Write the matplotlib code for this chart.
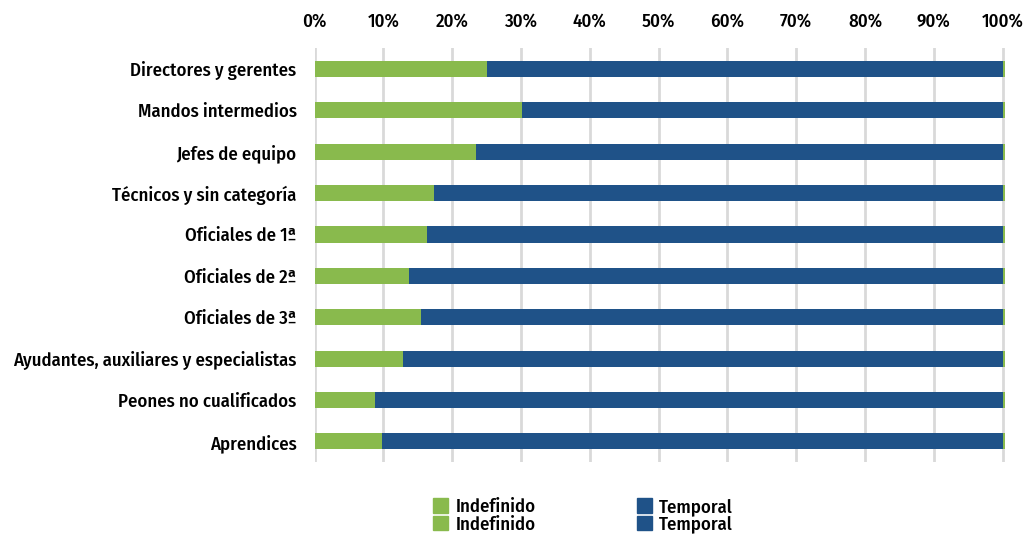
import matplotlib
matplotlib.use("Agg")
import matplotlib.pyplot as plt
from matplotlib.patches import Patch
import numpy as np

plt.rcParams['font.family'] = ['Fira Sans Condensed', 'DejaVu Sans']

# Categorías profesionales (de arriba a abajo)
categorias = [
    "Directores y gerentes",
    "Mandos intermedios",
    "Jefes de equipo",
    "Técnicos y sin categoría",
    "Oficiales de 1ª",
    "Oficiales de 2ª",
    "Oficiales de 3ª",
    "Ayudantes, auxiliares y especialistas",
    "Peones no cualificados",
    "Aprendices",
]

# Porcentaje de contratos por tipo
indefinido = [25.0, 30.2, 23.4, 17.4, 16.4, 13.7, 15.5, 12.8, 8.8, 9.8]
temporal = [75.0, 69.8, 76.6, 82.6, 83.6, 86.3, 84.5, 87.2, 91.2, 90.2]
indefinido_2 = [0.4, 0.4, 0.4, 0.4, 0.4, 0.4, 0.4, 0.4, 0.4, 0.4]
temporal_2 = [0.0, 0.0, 0.0, 0.0, 0.0, 0.0, 0.0, 0.0, 0.0, 0.0]

verde = "#89BA4D"
azul = "#1F5288"
peso = 500
tam = 13.5

fig = plt.figure(figsize=(10.28, 5.36), dpi=100)
ax = fig.add_axes([0.306, 0.138, 0.672, 0.772])

y = np.arange(len(categorias))
alto = 0.39
izq = np.zeros(len(categorias))
for valores, color in [(indefinido, verde), (temporal, azul),
                       (indefinido_2, verde), (temporal_2, azul)]:
    ax.barh(y, valores, left=izq, height=alto, color=color, zorder=3)
    izq = izq + np.array(valores)

ax.set_ylim(len(categorias) - 0.5, -0.5)
ax.set_xlim(0, 100.4)
ax.set_yticks(y)
ax.set_yticklabels(categorias, fontsize=tam, weight=peso)
ax.set_xticks(np.arange(0, 101, 10))
ax.set_xticklabels([f"{v}%" for v in range(0, 101, 10)], fontsize=tam, weight=peso)
ax.xaxis.tick_top()
ax.tick_params(axis='x', length=0, pad=13)
ax.tick_params(axis='y', length=0, pad=13)
ax.grid(axis='x', color='#d9d9d9', linewidth=2, zorder=0)
for s in ax.spines.values():
    s.set_visible(False)

handles = [Patch(color=verde, label="Indefinido"),
           Patch(color=verde, label="Indefinido"),
           Patch(color=azul, label="Temporal"),
           Patch(color=azul, label="Temporal")]
fig.legend(handles=handles, ncol=2, loc='center', bbox_to_anchor=(0.567, 0.038),
           frameon=False, prop={'size': tam, 'weight': peso},
           handlelength=0.8, handleheight=0.8,
           handletextpad=0.4, columnspacing=5.4, labelspacing=0.0)

fig.savefig("out.png", dpi=100)
